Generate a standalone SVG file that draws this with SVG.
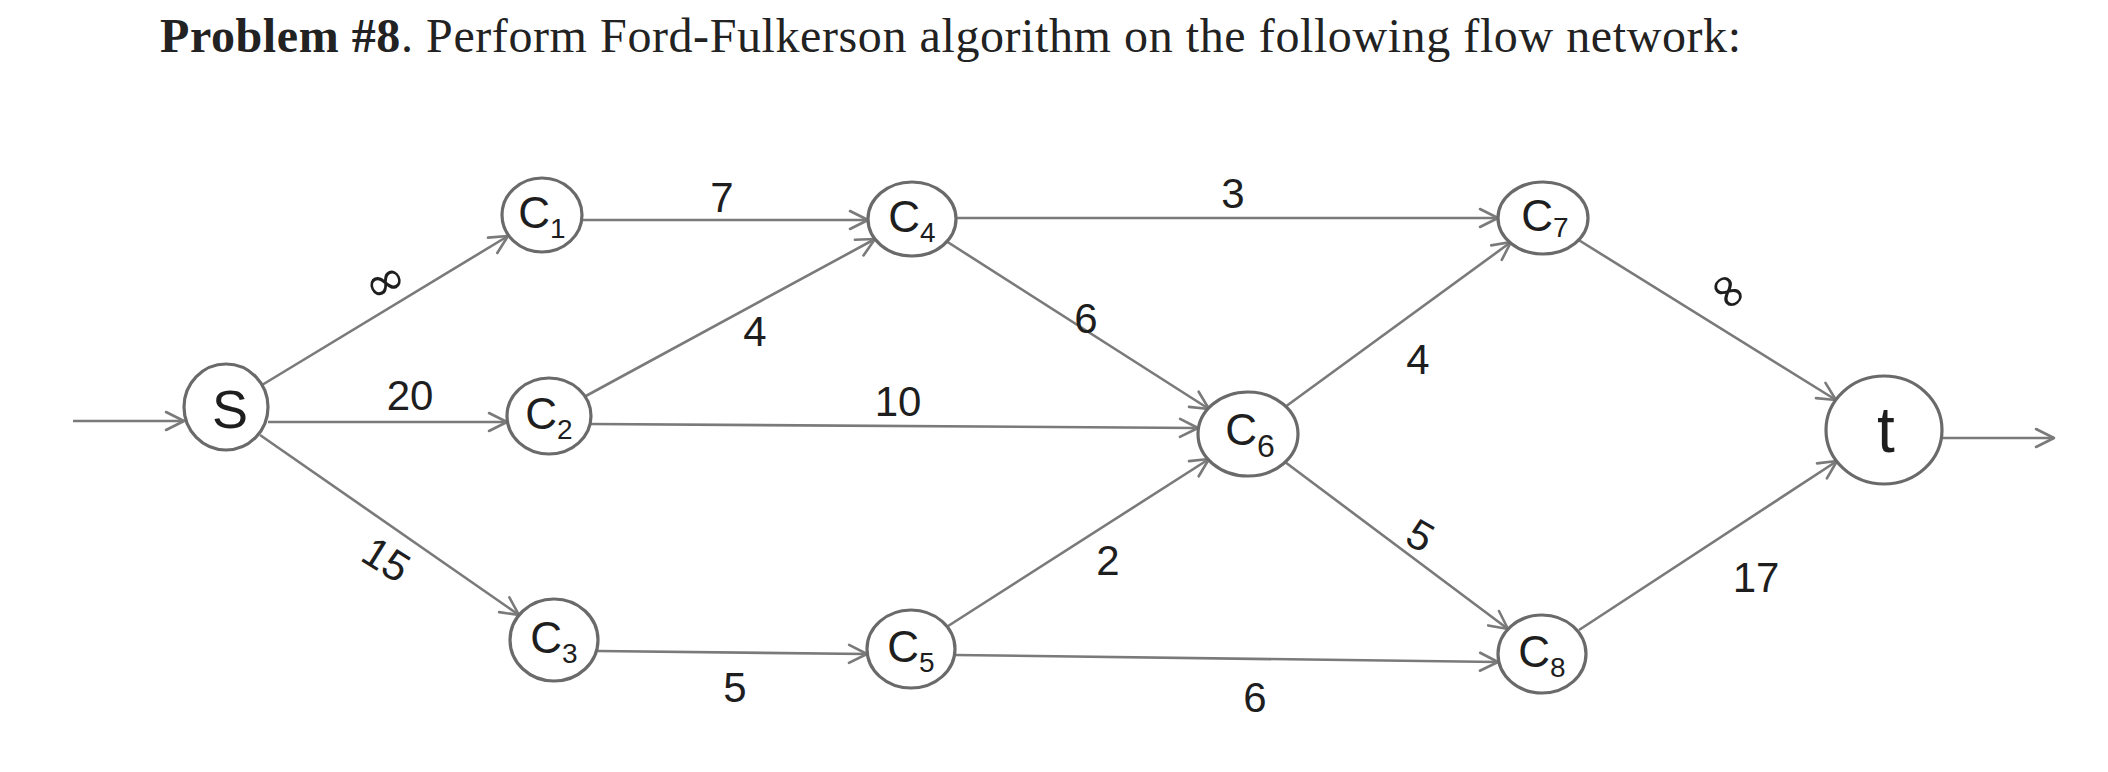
<svg xmlns="http://www.w3.org/2000/svg" width="2108" height="772" viewBox="0 0 2108 772">
<style>
.edge{stroke:#7a7a7a;stroke-width:2.6;fill:none;marker-end:url(#arr)}
.node{fill:#fff;stroke:#6a6a6a;stroke-width:3.2}
.nl{font-family:"Liberation Sans",Arial,sans-serif;fill:#1e1e1e;text-anchor:middle}
.el{font-family:"Liberation Sans",Arial,sans-serif;font-size:42px;fill:#1e1e1e;text-anchor:middle}
.inf{font-family:"DejaVu Sans",sans-serif;font-size:50px;fill:#1e1e1e;text-anchor:middle}
.title{font-family:"Liberation Serif","Times New Roman",serif;font-size:48px;fill:#222}
</style>
<defs>
<marker id="arr" markerUnits="userSpaceOnUse" markerWidth="26" markerHeight="26" viewBox="0 0 26 26" refX="22" refY="13" orient="auto">
<path d="M4,4 L22,13 L4,22" fill="none" stroke="#7a7a7a" stroke-width="2.6" stroke-linecap="round" stroke-linejoin="round"/>
</marker>
</defs>
<rect width="2108" height="772" fill="#fff"/>
<text class="title" x="160" y="52" textLength="1581" lengthAdjust="spacing"><tspan font-weight="bold">Problem #8</tspan>. Perform Ford-Fulkerson algorithm on the following flow network:</text>

<g id="connectors">
<line class="edge" x1="73" y1="421" x2="184" y2="421"/>
<line class="edge" x1="262" y1="385" x2="508" y2="236"/>
<line class="edge" x1="268" y1="422" x2="507" y2="422"/>
<line class="edge" x1="260" y1="435" x2="519" y2="615"/>
<line class="edge" x1="582" y1="220" x2="868" y2="220"/>
<line class="edge" x1="584" y1="397" x2="875" y2="239"/>
<line class="edge" x1="591" y1="424" x2="1198" y2="428"/>
<line class="edge" x1="956" y1="218" x2="1498" y2="218"/>
<line class="edge" x1="946" y1="241" x2="1209" y2="409"/>
<line class="edge" x1="598" y1="651" x2="867" y2="654"/>
<line class="edge" x1="945" y1="628" x2="1209" y2="459"/>
<line class="edge" x1="955" y1="655" x2="1498" y2="662"/>
<line class="edge" x1="1285" y1="407" x2="1511" y2="242"/>
<line class="edge" x1="1285" y1="462" x2="1508" y2="629"/>
<line class="edge" x1="1577" y1="239" x2="1836" y2="400"/>
<line class="edge" x1="1579" y1="630" x2="1837" y2="461"/>
<line class="edge" x1="1942" y1="438" x2="2054" y2="438"/>
<text class="inf" transform="translate(385,282) rotate(-25)" y="16">∞</text>
<text class="el" x="410" y="410">20</text>
<text class="el" transform="translate(386,560) rotate(32)" y="14">15</text>
<text class="el" x="722" y="212">7</text>
<text class="el" x="755" y="346">4</text>
<text class="el" x="898" y="416">10</text>
<text class="el" x="1233" y="208">3</text>
<text class="el" x="1086" y="333">6</text>
<text class="el" x="735" y="702">5</text>
<text class="el" x="1108" y="575">2</text>
<text class="el" x="1418" y="374">4</text>
<text class="el" transform="translate(1420,536) rotate(30)" y="14">5</text>
<text class="el" x="1255" y="712">6</text>
<text class="inf" transform="translate(1729,291) rotate(50)" y="16">∞</text>
<text class="el" x="1756" y="592">17</text>
</g>

<g id="node-s"><ellipse class="node" cx="226" cy="407" rx="42" ry="43"/><text class="nl" x="230" y="428" font-size="54">S</text></g>
<g id="node-c1"><ellipse class="node" cx="542" cy="215" rx="40" ry="37"/><text class="nl" x="542" y="228" font-size="44">C<tspan font-size="28" dy="10">1</tspan></text></g>
<g id="node-c2"><ellipse class="node" cx="549" cy="416" rx="42" ry="38"/><text class="nl" x="549" y="429" font-size="44">C<tspan font-size="28" dy="10">2</tspan></text></g>
<g id="node-c3"><ellipse class="node" cx="554" cy="640" rx="44" ry="41"/><text class="nl" x="554" y="653" font-size="44">C<tspan font-size="28" dy="10">3</tspan></text></g>
<g id="node-c4"><ellipse class="node" cx="912" cy="219" rx="44" ry="37"/><text class="nl" x="912" y="232" font-size="44">C<tspan font-size="28" dy="10">4</tspan></text></g>
<g id="node-c5"><ellipse class="node" cx="911" cy="649" rx="44" ry="39"/><text class="nl" x="911" y="662" font-size="44">C<tspan font-size="28" dy="10">5</tspan></text></g>
<g id="node-c6"><ellipse class="node" cx="1248" cy="434" rx="50" ry="42"/><text class="nl" x="1250" y="445" font-size="44">C<tspan font-size="32" dy="12">6</tspan></text></g>
<g id="node-c7"><ellipse class="node" cx="1543" cy="218" rx="45" ry="36"/><text class="nl" x="1545" y="231" font-size="44">C<tspan font-size="28" dy="6">7</tspan></text></g>
<g id="node-c8"><ellipse class="node" cx="1542" cy="654" rx="44" ry="39"/><text class="nl" x="1542" y="667" font-size="44">C<tspan font-size="28" dy="10">8</tspan></text></g>
<g id="node-t"><ellipse class="node" cx="1884" cy="430" rx="58" ry="54"/><text class="nl" x="1886" y="452" font-size="64">t</text></g>
</svg>
